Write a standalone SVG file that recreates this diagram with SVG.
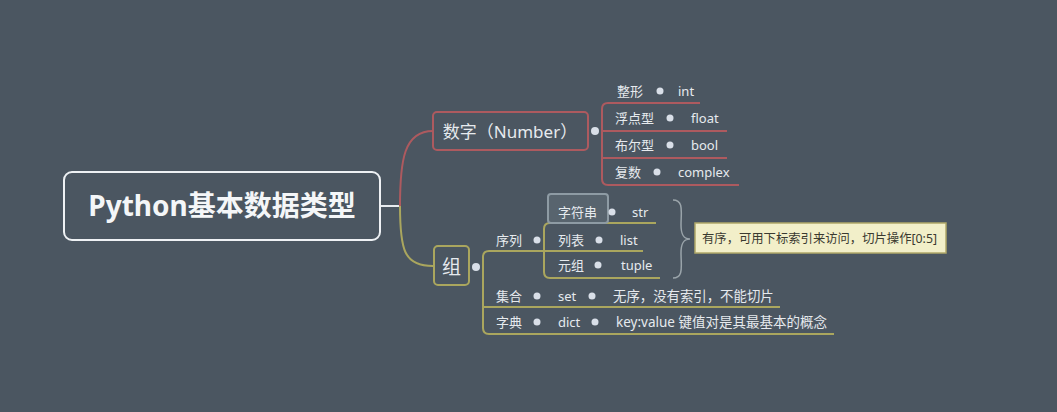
<svg xmlns="http://www.w3.org/2000/svg" width="1057" height="412" viewBox="0 0 1057 412">
<style>
.t{font-family:"Noto Sans","Noto Sans CJK SC",sans-serif;fill:#e6eaee;font-size:13px}
.big{font-size:17px}
.root{font-family:"Noto Sans","Noto Sans CJK SC",sans-serif;fill:#f4f6f8;font-size:28px;font-weight:bold}
.note{font-family:"Noto Sans","Noto Sans CJK SC",sans-serif;fill:#3a3a30;font-size:12.5px}
.red{fill:none;stroke:#ad5a5f;stroke-width:2}
.grn{fill:none;stroke:#aaa65e;stroke-width:2}
.knob{fill:#d9dfe8}
</style>
<rect width="1057" height="412" fill="#4b5661"/>
<g id="connectors">
<path d="M380,206 H400" fill="none" stroke="#e8ecf0" stroke-width="2"/>
<path class="red" d="M400,206 C400,160 404,131 433,131"/>
<path class="grn" d="M400,206 C400,250 404,266 433,266"/>
<path class="red" d="M700,103 H608 Q602,103 602,109 V179 Q602,185 608,185 H739"/>
<path class="red" d="M602,131 H727 M602,158 H727"/>
<path class="grn" d="M643,251 H489 Q483,251 483,257 V328 Q483,334 489,334 H834"/>
<path class="grn" d="M483,307 H780"/>
<path class="grn" d="M656,223 H550 Q544,223 544,229 V272 Q544,278 550,278 H660"/>
<path d="M673,200 C684,200 681,212 681,225 C681,234 683,239 690,239 C683,239 681,244 681,253 C681,266 684,278 673,278" fill="none" stroke="#9aa4aa" stroke-width="1.5"/>
</g>
<g id="root">
<rect x="64" y="172" width="316" height="68" rx="8" fill="#4b5661" stroke="#eef1f4" stroke-width="2"/>
<text class="root" x="222" y="216" text-anchor="middle">Python基本数据类型</text>
</g>
<g id="number">
<rect x="433" y="112" width="155" height="38" rx="4" fill="#4b5661" stroke="#ad5a5f" stroke-width="2"/>
<text class="t big" x="510" y="138" text-anchor="middle">数字（Number）</text>
<circle class="knob" cx="595" cy="131" r="4"/>
</g>
<g id="int"><text class="t" x="617" y="96">整形</text><circle class="knob" cx="660" cy="91" r="3.5"/><text class="t" x="678" y="96">int</text></g>
<g id="float"><text class="t" x="615" y="123">浮点型</text><circle class="knob" cx="670" cy="118" r="3.5"/><text class="t" x="691" y="123">float</text></g>
<g id="bool"><text class="t" x="615" y="150">布尔型</text><circle class="knob" cx="670" cy="145" r="3.5"/><text class="t" x="691" y="150">bool</text></g>
<g id="complex"><text class="t" x="615" y="177">复数</text><circle class="knob" cx="657" cy="172" r="3.5"/><text class="t" x="678" y="177">complex</text></g>
<g id="group">
<rect x="434" y="246" width="35" height="39" rx="4" fill="#4b5661" stroke="#aaa65e" stroke-width="2"/>
<text class="t" x="451.5" y="274" text-anchor="middle" style="font-size:19px">组</text>
<circle class="knob" cx="476" cy="267" r="4"/>
</g>
<g id="seq"><text class="t" x="496" y="245">序列</text><circle class="knob" cx="537" cy="240" r="3.5"/></g>
<g id="str">
<rect x="548" y="194" width="60" height="29" rx="3" fill="#58646e" stroke="#8e9ba4" stroke-width="2"/>
<text class="t" x="558" y="217">字符串</text><circle class="knob" cx="612" cy="212" r="3.5"/><text class="t" x="632" y="217">str</text>
</g>
<g id="list"><text class="t" x="558" y="245">列表</text><circle class="knob" cx="599" cy="240" r="3.5"/><text class="t" x="620" y="245">list</text></g>
<g id="tuple"><text class="t" x="558" y="270">元组</text><circle class="knob" cx="598" cy="265" r="3.5"/><text class="t" x="621" y="270">tuple</text></g>
<g id="note">
<rect x="695" y="223" width="251" height="30" fill="#f2efc9" stroke="#b0a868" stroke-width="1.5"/>
<text class="note" x="702" y="243" textLength="235" lengthAdjust="spacingAndGlyphs">有序，可用下标索引来访问，切片操作[0:5]</text>
</g>
<g id="set"><text class="t" x="496" y="301">集合</text><circle class="knob" cx="537" cy="296" r="3.5"/><text class="t" x="558" y="301">set</text><circle class="knob" cx="592" cy="296" r="3.5"/><text class="t" x="613" y="301" style="font-size:13.4px">无序，没有索引，不能切片</text></g>
<g id="dict"><text class="t" x="496" y="327">字典</text><circle class="knob" cx="537" cy="322" r="3.5"/><text class="t" x="558" y="327">dict</text><circle class="knob" cx="595" cy="322" r="3.5"/><text class="t" x="616" y="327" style="font-size:13.5px">key:value 键值对是其最基本的概念</text></g>
</svg>
